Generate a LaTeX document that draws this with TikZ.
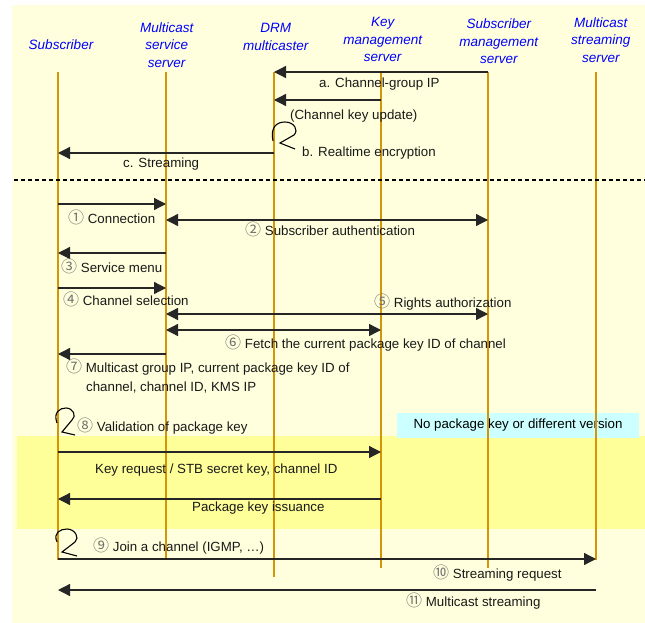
\documentclass[tikz,border=0pt]{standalone}
\usepackage{fontspec}
\setmainfont{Liberation Sans}
\newfontfamily\cjk{Noto Sans CJK JP}
\usetikzlibrary{arrows.meta}

\definecolor{paper}{RGB}{255,255,221}
\definecolor{band}{RGB}{255,255,153}
\definecolor{notebox}{RGB}{204,255,255}
\definecolor{life}{RGB}{212,150,8}
\definecolor{head}{RGB}{0,0,255}

% circled step numbers
\newcommand\cn[1]{{\cjk\fontsize{16}{19}\selectfont\color{black!55}#1}}

\begin{document}
\begin{tikzpicture}[x=1pt,y=-1pt,
  lifeline/.style={draw=life,line width=1.3pt},
  msg/.style={draw=black!85,line width=1.3pt,-{Triangle[length=12pt,width=12pt]}},
  dmsg/.style={draw=black!85,line width=1.3pt,{Triangle[length=12pt,width=12pt]}-{Triangle[length=12pt,width=12pt]}},
  lbl/.style={anchor=base west,inner sep=0pt,font=\fontsize{13.3}{19}\selectfont,text=black!90},
  hdr/.style={align=center,inner sep=0pt,font=\fontsize{13.5}{17.5}\selectfont\itshape,text=head},
  selfloop/.style={draw=black,line width=1.1pt,line join=miter}
]
\useasboundingbox (0,0) rectangle (645,623);

% backgrounds
\fill[paper] (12,5) rectangle (645,623);
\fill[band] (17,436) rectangle (645,529);
\node[fill=notebox,minimum width=242pt,minimum height=25pt,inner sep=0pt,
      font=\fontsize{13.3}{16}\selectfont] (note) at (518,425.5) {No package key or different version};

% participants
\node[hdr] (hSub) at (61,45) {Subscriber};
\node[hdr] (hMss) at (166.7,45) {Multicast\\service\\server};
\node[hdr] (hDrm) at (275.7,37) {DRM\\multicaster};
\node[hdr] (hKms) at (382.7,39.5) {Key\\management\\server};
\node[hdr] (hSms) at (498.8,41.5) {Subscriber\\management\\server};
\node[hdr] (hStr) at (600.8,40) {Multicast\\streaming\\server};

% lifeline ends
\coordinate (sub) at (58,72);   \coordinate (subE) at (58,560);
\coordinate (mss) at (166,72);  \coordinate (mssE) at (166,560);
\coordinate (drm) at (274,72);  \coordinate (drmE) at (274,577);
\coordinate (kms) at (381,72);  \coordinate (kmsE) at (381,568);
\coordinate (sms) at (488,72);  \coordinate (smsE) at (488,568);
\coordinate (str) at (596,72);  \coordinate (strE) at (596,560);

\draw[lifeline] (sub) -- (subE);
\draw[lifeline] (mss) -- (mssE);
\draw[lifeline] (drm) -- (drmE);
\draw[lifeline] (kms) -- (kmsE);
\draw[lifeline] (sms) -- (smsE);
\draw[lifeline] (str) -- (strE);

% separator
\coordinate (sepL) at (14,180);
\coordinate (sepR) at (645,180);
\draw[black,line width=1.5pt,dash pattern=on 4pt off 3pt] (sepL) -- (sepR);

% message rows
\coordinate (ra) at (0,72);
\coordinate (rb) at (0,100);
\coordinate (rc) at (0,153);
\coordinate (r1) at (0,204);
\coordinate (r2) at (0,220);
\coordinate (r3) at (0,253);
\coordinate (r4) at (0,288);
\coordinate (r5) at (0,314);
\coordinate (r6) at (0,330);
\coordinate (r7) at (0,354);
\coordinate (rk) at (0,452);
\coordinate (rp) at (0,499);
\coordinate (r9) at (0,559);
\coordinate (rm) at (0,590);

\draw[msg] (sms |- ra) -- (drm |- ra);
\draw[msg] (kms |- rb) -- (drm |- rb);
\draw[msg] (drm |- rc) -- (sub |- rc);
\draw[msg] (sub |- r1) -- (mss |- r1);
\draw[dmsg] (mss |- r2) -- (sms |- r2);
\draw[msg] (mss |- r3) -- (sub |- r3);
\draw[msg] (sub |- r4) -- (mss |- r4);
\draw[dmsg] (mss |- r5) -- (sms |- r5);
\draw[dmsg] (mss |- r6) -- (kms |- r6);
\draw[msg] (mss |- r7) -- (sub |- r7);
\draw[msg] (sub |- rk) -- (kms |- rk);
\draw[msg] (kms |- rp) -- (sub |- rp);
\draw[msg] (sub |- r9) -- (str |- r9);
\draw[msg] (str |- rm) -- (sub |- rm);

% self messages
\draw[selfloop] (273,141) .. controls (270,127) and (277,122) .. (285,122)
  .. controls (294,122) and (299,130) .. (294,135) -- (280,143) -- (295,149);
\draw[selfloop] (57,423) .. controls (53,412) and (60,408) .. (66,408)
  .. controls (73,408) and (77,416) .. (72,420) -- (62,432) -- (75,435);
\draw[selfloop] (57,542) .. controls (53,533) and (60,529) .. (67,529)
  .. controls (75,529) and (80,538) .. (75,542) -- (62,552) -- (77,556);

% labels
\node[lbl] (la) at (319,87.8) {a. Channel-group IP};
\node[lbl] (lb0) at (290,119.8) {(Channel key update)};
\node[lbl] (lb) at (302,156.8) {b. Realtime encryption};
\node[lbl] (lc) at (123,167.8) {c. Streaming};
\node[lbl] (l1) at (68,223.8) {\cn{①} Connection};
\node[lbl] (l2) at (245,235.8) {\cn{②} Subscriber authentication};
\node[lbl] (l3) at (61,272.8) {\cn{③} Service menu};
\node[lbl] (l4) at (63,305.8) {\cn{④} Channel selection};
\node[lbl] (l5) at (374,307.8) {\cn{⑤} Rights authorization};
\node[lbl] (l6) at (225,348.8) {\cn{⑥} Fetch the current package key ID of channel};
\node[lbl] (l7) at (66,372.8) {\cn{⑦} Multicast group IP, current package key ID of};
\node[lbl] (l7b) at (86,391.8) {channel, channel ID, KMS IP};
\node[lbl] (l8) at (77,431.8) {\cn{⑧} Validation of package key};
\node[lbl] (lk) at (95,473.8) {Key request / STB secret key, channel ID};
\node[lbl] (lp) at (192,511.8) {Package key issuance};
\node[lbl] (l9) at (93,551.8) {\cn{⑨} Join a channel (IGMP, …)};
\node[lbl] (l10) at (433,578.8) {\cn{⑩} Streaming request};
\node[lbl] (l11) at (406,606.8) {\cn{⑪} Multicast streaming};
\end{tikzpicture}
\end{document}
